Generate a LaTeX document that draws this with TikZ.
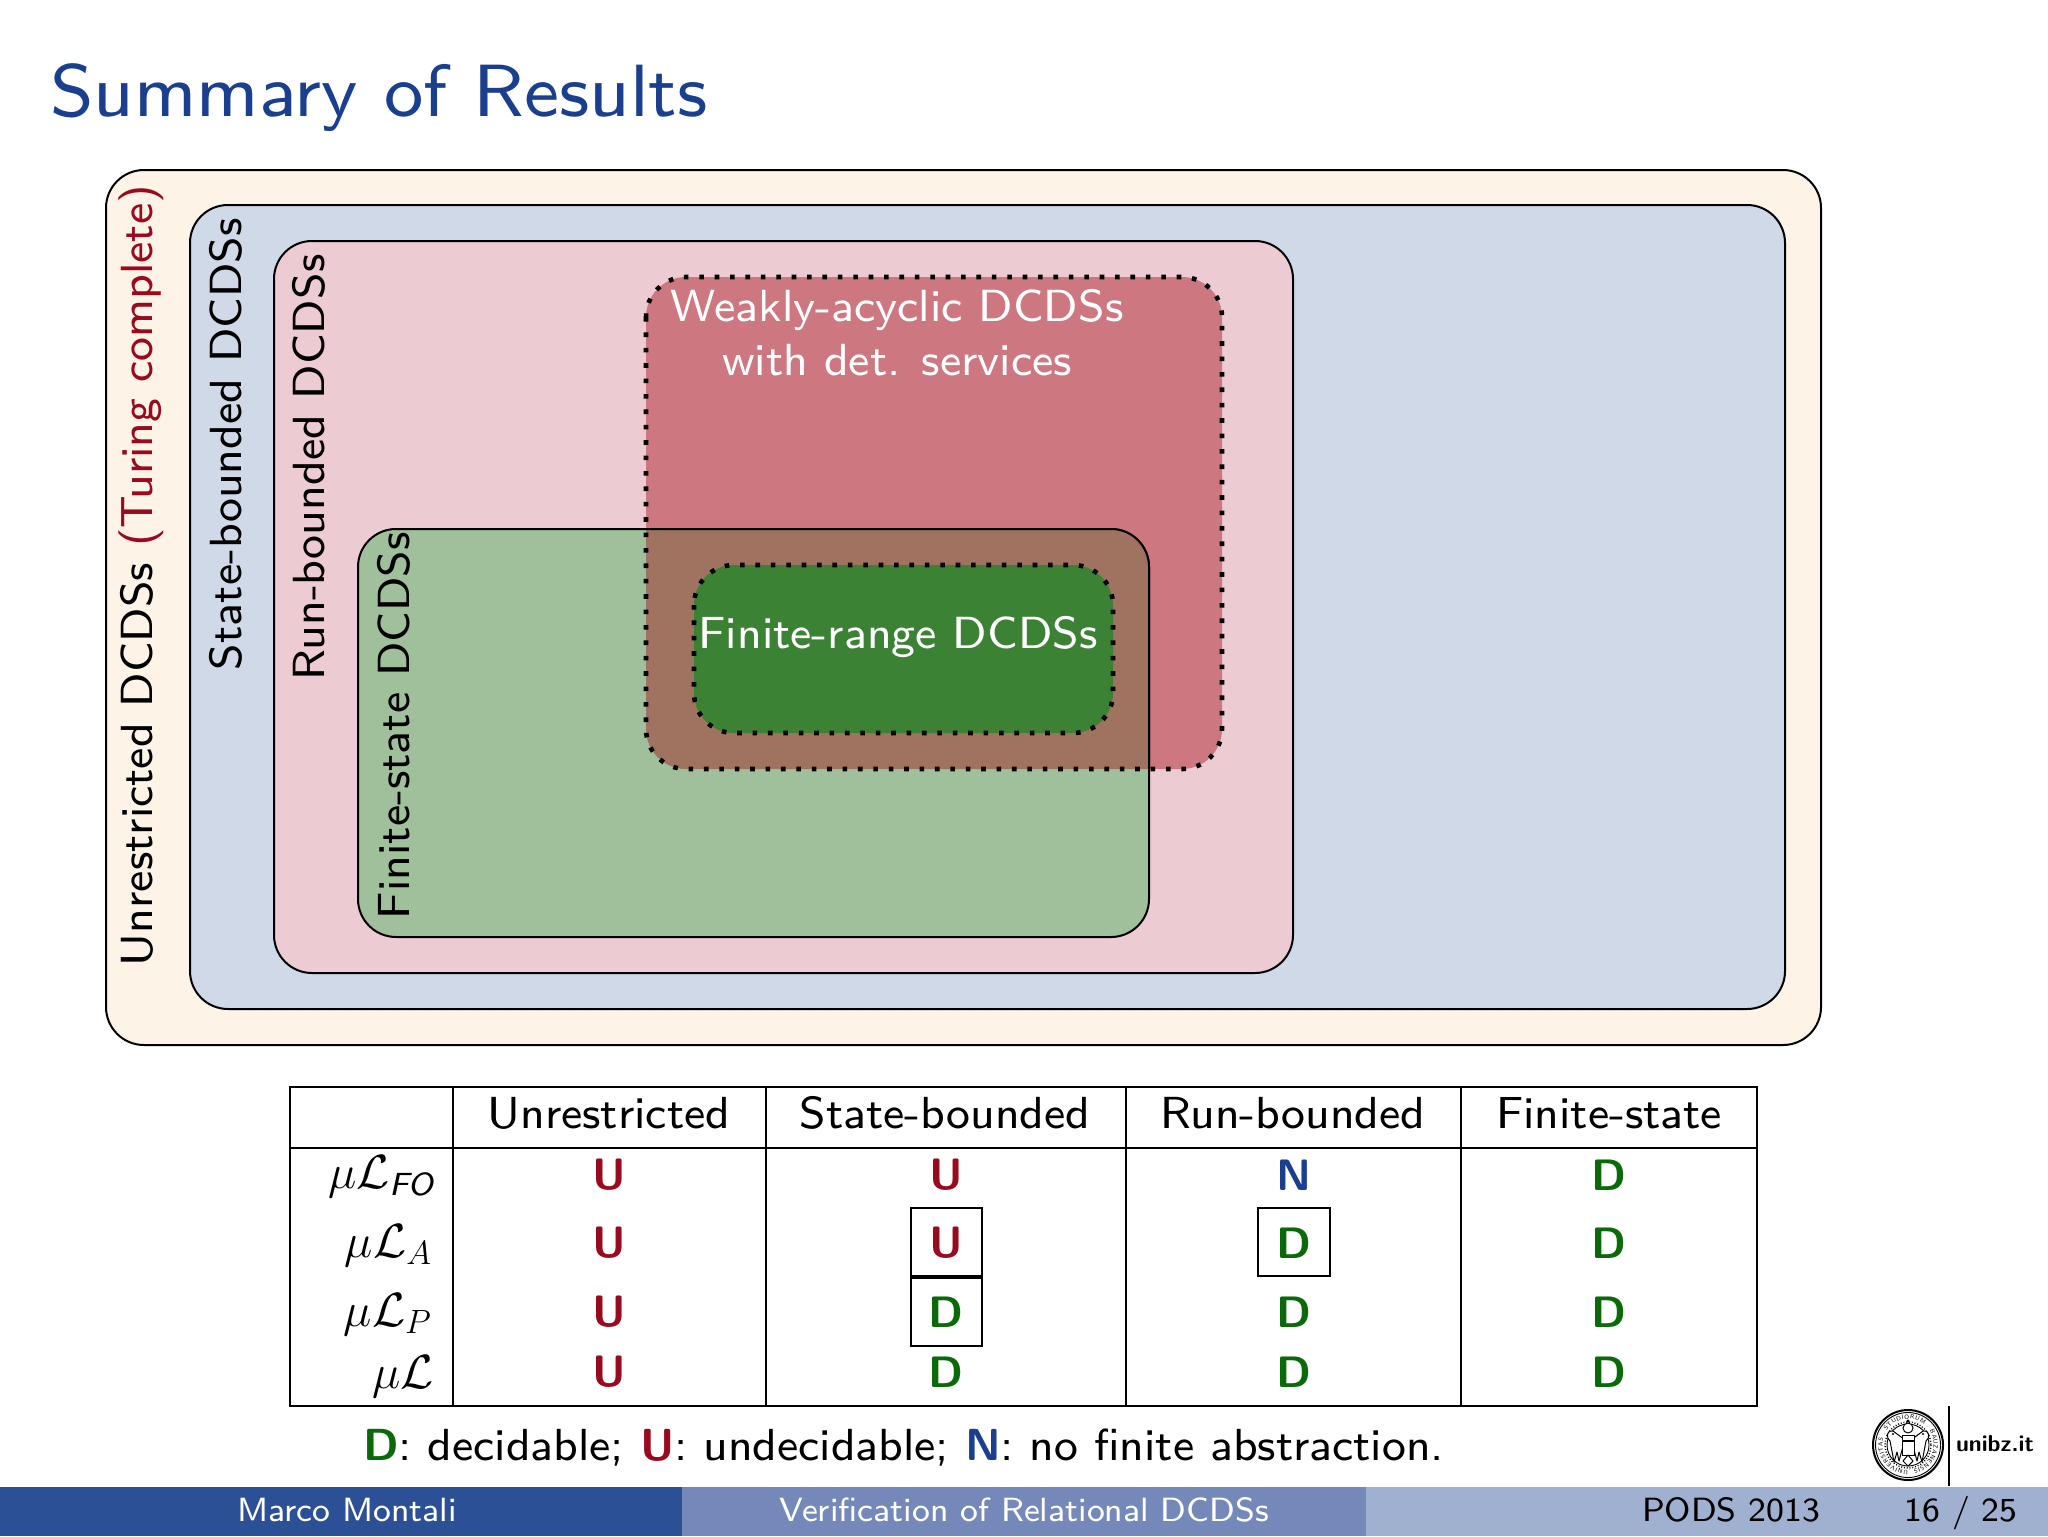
\documentclass[tikz,border=0pt]{standalone}
\usepackage{fix-cm}
\usetikzlibrary{decorations.text}
\DeclareFontFamily{TU}{mysf}{}
\DeclareFontShape{TU}{mysf}{m}{n}{<->"[lmsans8-regular]:+tlig;"}{}
\DeclareFontShape{TU}{mysf}{m}{it}{<->"[lmsans8-oblique]:+tlig;"}{}
\DeclareFontShape{TU}{mysf}{bx}{n}{<->"[lmsans10-bold]:+tlig;"}{}
\renewcommand{\sfdefault}{mysf}
\definecolor{ctitle}{HTML}{1A3F8F}
\definecolor{cdec}{HTML}{0A6A0A}
\definecolor{cund}{HTML}{990A1E}
\definecolor{cnof}{HTML}{1A3F8F}
\definecolor{cout}{HTML}{FDF3E6}
\definecolor{cstate}{HTML}{D0D9E8}
\definecolor{crun}{HTML}{ECCBD2}
\definecolor{cfin}{HTML}{A0C09B}
\definecolor{cweak}{HTML}{CD7780}
\definecolor{cover}{HTML}{9F735F}
\definecolor{crange}{HTML}{3C8235}
\definecolor{cfootA}{HTML}{2C5096}
\definecolor{cfootB}{HTML}{7489BA}
\definecolor{cfootC}{HTML}{A0B0D0}
\newcommand{\fsz}[1]{\fontsize{#1}{#1}\selectfont}
\newcommand{\res}[2]{\textcolor{#1}{\bfseries #2}}
\newcommand{\subFO}{\mbox{\fsz{16}\sffamily\itshape FO}}
\tikzset{
  x=0.5pt,y=-0.5pt,
  every node/.style={inner sep=0pt,outer sep=0pt,font=\sffamily\fsz{22.45}},
  setbox/.style={draw=black,line width=1pt,rounded corners=19pt},
  dotbox/.style={draw=black,line width=2.3pt,dash pattern=on 2.3pt off 5.4pt,rounded corners=20pt},
  rotlabel/.style={rotate=90,anchor=base west,font=\sffamily\fsz{22.5}},
  whitelabel/.style={anchor=base,text=white,font=\sffamily\fsz{22.5}},
  cellres/.style={font=\sffamily\bfseries\fsz{22}},
  rowlabel/.style={anchor=base east,font=\fsz{24}},
  framebox/.style={draw=black,line width=1pt},
  tabline/.style={draw=black,line width=1pt},
  foottext/.style={anchor=base,font=\sffamily\fsz{16.8}},
  sealline/.style={draw=black,line width=.45pt},
  wing/.style={draw=black,fill=white,line width=.5pt,line join=round},
}
\begin{document}
\begin{tikzpicture}
\useasboundingbox (0,0) rectangle (2048,1536);
\fill[white] (0,0) rectangle (2048,1536);
% title
\node[anchor=base west,text=ctitle,font=\sffamily\fsz{37}] (title) at (50,117) {Summary of Results};
% nested sets
\filldraw[setbox,fill=cout] (106,170) rectangle (1821,1045);
\filldraw[setbox,fill=cstate] (190,205) rectangle (1785,1009);
\filldraw[setbox,fill=crun] (274,241) rectangle (1293,973);
\fill[rounded corners=20pt,fill=cweak] (646,277) rectangle (1222,769);
\filldraw[setbox,fill=cfin] (358,529) rectangle (1149,937);
\begin{scope}
  \clip[rounded corners=20pt] (646,277) rectangle (1222,769);
  \filldraw[setbox,fill=cover] (358,529) rectangle (1149,937);
\end{scope}
\draw[dotbox] (646,277) rectangle (1222,769);
\filldraw[dotbox,fill=crange] (694,565) rectangle (1113,733);
% set labels
\node[rotlabel] (lunr) at (152,966) {Unrestricted DCDSs \textcolor{cund}{(Turing complete)}};
\node[rotlabel] (lsta) at (241,670) {State-bounded DCDSs};
\node[rotlabel] (lrun) at (324,680) {Run-bounded DCDSs};
\node[rotlabel] (lfin) at (409,919) {Finite-state DCDSs};
\node[whitelabel] (lweak1) at (897,321) {Weakly-acyclic DCDSs};
\node[whitelabel] (lweak2) at (897,375) {with det. services};
\node[whitelabel] (lrange) at (898,648) {Finite-range DCDSs};
% table
\draw[tabline] (290,1087) rectangle (1757,1406);
\draw[tabline] (290,1148) -- (1757,1148);
\foreach \tx in {453,766,1126,1461} \draw[tabline] (\tx,1087) -- (\tx,1406);
\node[anchor=base] (h1) at (609,1128) {Unrestricted};
\node[anchor=base] (h2) at (945,1128) {State-bounded};
\node[anchor=base] (h3) at (1293,1128) {Run-bounded};
\node[anchor=base] (h4) at (1609,1128) {Finite-state};
\node[rowlabel] (r1) at (434,1188) {$\mu\mathcal{L}_{\subFO}$};
\node[rowlabel] (r2) at (432,1257) {$\mu\mathcal{L}_{A}$};
\node[rowlabel] (r3) at (432,1326) {$\mu\mathcal{L}_{P}$};
\node[rowlabel] (r4) at (434,1388) {$\mu\mathcal{L}$};
\draw[framebox] (911,1208) rectangle (982,1276);
\draw[framebox] (911,1278) rectangle (982,1346);
\draw[framebox] (1258,1208) rectangle (1330,1276);
\node[cellres,text=cund] (c11) at (609,1175) {U};
\node[cellres,text=cund] (c12) at (946,1175) {U};
\node[cellres,text=cnof] (c13) at (1294,1175) {N};
\node[cellres,text=cdec] (c14) at (1609,1175) {D};
\node[cellres,text=cund] (c21) at (609,1243) {U};
\node[cellres,text=cund] (c22) at (946,1243) {U};
\node[cellres,text=cdec] (c23) at (1294,1243) {D};
\node[cellres,text=cdec] (c24) at (1609,1243) {D};
\node[cellres,text=cund] (c31) at (609,1312) {U};
\node[cellres,text=cdec] (c32) at (946,1312) {D};
\node[cellres,text=cdec] (c33) at (1294,1312) {D};
\node[cellres,text=cdec] (c34) at (1609,1312) {D};
\node[cellres,text=cund] (c41) at (609,1372) {U};
\node[cellres,text=cdec] (c42) at (946,1372) {D};
\node[cellres,text=cdec] (c43) at (1294,1372) {D};
\node[cellres,text=cdec] (c44) at (1609,1372) {D};
\node[anchor=base west] (legend) at (363,1460) {\res{cdec}{D}: decidable; \res{cund}{U}: undecidable; \res{cnof}{N}: no finite abstraction.};
% footer
\fill[cfootA] (0,1487) rectangle (682,1536);
\fill[cfootB] (682,1487) rectangle (1366,1536);
\fill[cfootC] (1366,1487) rectangle (2048,1536);
\node[foottext,text=white] (f1) at (347,1521) {Marco Montali};
\node[foottext,text=white] (f2) at (1024,1521) {Verification of Relational DCDSs};
\node[foottext,text=black] (f3) at (1731,1521) {PODS 2013};
\node[foottext,text=black] (f4) at (1961,1521) {16 / 25};
% logo
\draw[line width=1pt] (1908,1445) circle (35);
\draw[sealline] (1908,1445) circle (32.5);
\draw[draw=black,line width=.7pt,dash pattern=on .5pt off .9pt] (1908,1445) circle (23);
\draw[sealline] (1908,1445) circle (21);
\path[decorate,decoration={text along path,text align=fit to path,
   text={|\sffamily\fsz{3.1}|UNIVERSITAS . STUDIORUM . BAUZANENSIS . }}]
   (1908,1470) arc (90:449:25.5);
% eagle
\draw[wing] (1893,1431) .. controls (1886,1430) and (1886,1438) .. (1890,1441) -- (1894,1462) -- (1897,1452) -- (1899,1461) -- (1902,1450) -- (1905,1440) -- cycle;
\draw[wing] (1923,1431) .. controls (1930,1430) and (1930,1438) .. (1926,1441) -- (1922,1462) -- (1919,1452) -- (1917,1461) -- (1914,1450) -- (1911,1440) -- cycle;
\draw[wing] (1902,1441) rectangle (1914,1455);
\draw[wing] (1908,1455) -- (1903,1461) -- (1908,1466) -- (1913,1461) -- cycle;
\draw[wing] (1908,1428) circle (5);
\draw[wing] (1902,1435) -- (1914,1435) -- (1914,1440) -- (1902,1440) -- cycle;
\fill (1908,1421) circle (1.6);
\fill (1893,1434) circle (1.1);
\fill (1923,1434) circle (1.1);
\draw[line width=1pt] (1949,1406) -- (1949,1486);
\node[anchor=base west,font=\sffamily\bfseries\fsz{11.5}] (unibz) at (1956,1451) {unibz.it};
\end{tikzpicture}
\end{document}
